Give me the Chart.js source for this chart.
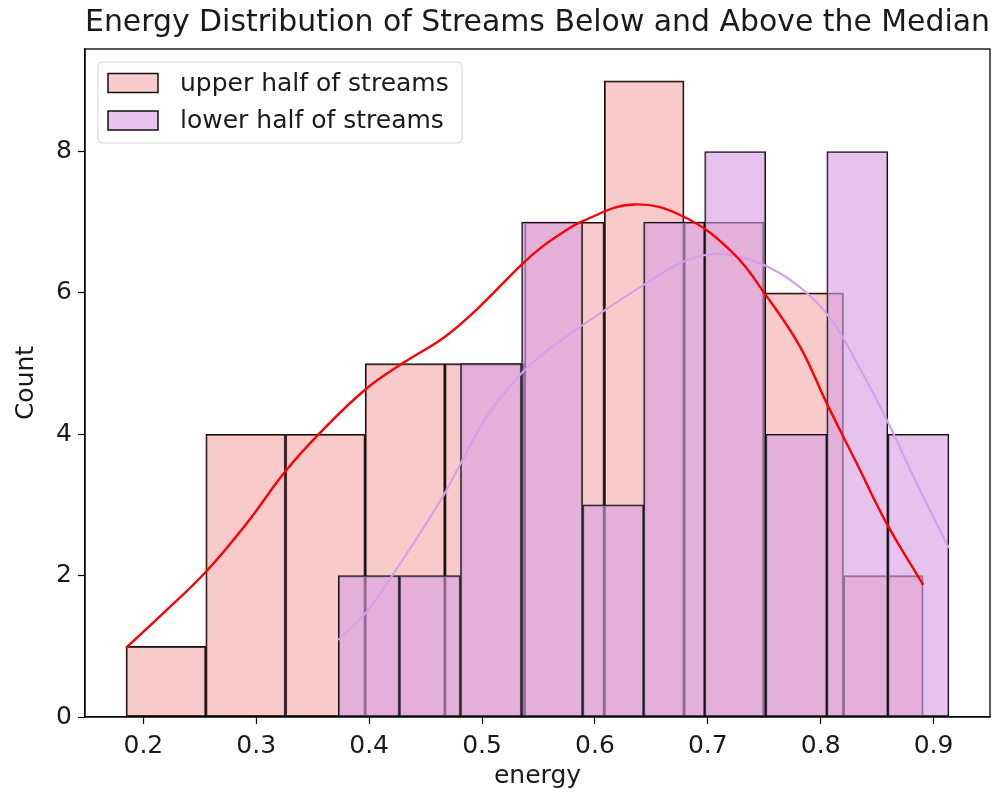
<!DOCTYPE html>
<html>
<head>
<meta charset="utf-8">
<script src="https://cdn.jsdelivr.net/npm/chart.js@4.4.0/dist/chart.umd.min.js"></script>
<style>
  html, body { margin: 0; padding: 0; background: #fff; }
  #wrap { width: 998px; height: 796px; }
</style>
</head>
<body>
<div id="wrap"><canvas id="histChart" width="998" height="796"></canvas></div>
<script>
// --- data ---
const upperLabel = 'upper half of streams';
const lowerLabel = 'lower half of streams';

// bin edges (energy) and counts per bin
const upperEdges = [0.1847, 0.2553, 0.3259, 0.3965, 0.4671, 0.5377, 0.6083, 0.6790, 0.7496, 0.8202, 0.8908];
const upperCounts = [1, 4, 4, 5, 5, 7, 9, 7, 6, 2];
const lowerEdges = [0.3727, 0.4268, 0.4809, 0.5350, 0.5891, 0.6432, 0.6972, 0.7513, 0.8054, 0.8595, 0.9136];
const lowerCounts = [2, 2, 5, 7, 3, 7, 8, 4, 8, 4];

// kde curves (energy, count scale)
const upperKdeX = [0.1847, 0.2177, 0.2546, 0.2916, 0.3255, 0.3565, 0.3964, 0.4303, 0.4672, 0.4982, 0.5337, 0.5514, 0.5691, 0.5897, 0.6340, 0.6783, 0.7226, 0.7522, 0.7817, 0.8053, 0.8319, 0.8584, 0.8908];
const upperKdeY = [0.98, 1.47, 2.04, 2.74, 3.47, 4.02, 4.63, 5.01, 5.38, 5.81, 6.38, 6.63, 6.83, 7.02, 7.25, 7.08, 6.56, 5.95, 5.24, 4.44, 3.59, 2.74, 1.87];
const lowerKdeX = [0.3727, 0.3979, 0.4200, 0.4451, 0.4672, 0.4805, 0.5042, 0.5337, 0.5514, 0.5691, 0.5897, 0.6429, 0.6783, 0.7049, 0.7285, 0.7580, 0.7876, 0.8112, 0.8348, 0.8584, 0.8850, 0.9136];
const lowerKdeY = [1.09, 1.49, 1.99, 2.60, 3.17, 3.57, 4.25, 4.84, 5.10, 5.32, 5.55, 6.11, 6.44, 6.55, 6.51, 6.33, 6.00, 5.58, 4.93, 4.21, 3.31, 2.39];

// axis ticks and limits
const xTicks = [0.2, 0.3, 0.4, 0.5, 0.6, 0.7, 0.8, 0.9];
const yTicks = [0, 2, 4, 6, 8];
const xMin = 0.1483, xMax = 0.95;
const yMin = 0, yMax = 9.45;

const FONT = '"DejaVu Sans", "Liberation Sans", sans-serif';
const TEXT = '#1a1a1a';

function toBars(edges, counts) {
    return counts.map((c, i) => ({ x: (edges[i] + edges[i + 1]) / 2, y: c }));
}
function toPoints(xs, ys) {
    return xs.map((x, i) => ({ x: x, y: ys[i] }));
}

// legend box in the upper left of the axes, like matplotlib
const boxLegend = {
    id: 'boxLegend',
    afterDraw(chart) {
        const ctx = chart.ctx;
        const a = chart.chartArea;
        const bars = chart.data.datasets.filter(d => d.type === 'bar').reverse();
        const bx = a.left + 13, by = a.top + 13, bw = 364, bh = 81;
        ctx.save();
        ctx.beginPath();
        ctx.roundRect(bx, by, bw, bh, 4);
        ctx.fillStyle = 'rgba(255,255,255,0.8)';
        ctx.fill();
        ctx.strokeStyle = '#d6d6d6';
        ctx.lineWidth = 1;
        ctx.stroke();
        ctx.font = '25px ' + FONT;
        ctx.textBaseline = 'middle';
        bars.forEach((d, i) => {
            const cy = by + 21 + i * 37.5;
            ctx.fillStyle = d.legendColor;
            ctx.fillRect(bx + 10, cy - 9.5, 50, 19);
            ctx.strokeStyle = '#111';
            ctx.lineWidth = 1.5;
            ctx.strokeRect(bx + 10, cy - 9.5, 50, 19);
            ctx.fillStyle = TEXT;
            ctx.fillText(d.label, bx + 82, cy + 1);
        });
        ctx.restore();
    }
};

// axes frame on all four sides
const frame = {
    id: 'frame',
    afterDatasetsDraw(chart) {
        const a = chart.chartArea;
        const ctx = chart.ctx;
        ctx.save();
        ctx.strokeStyle = '#000';
        ctx.lineWidth = 1.3;
        ctx.strokeRect(a.left, a.top, a.right - a.left, a.bottom - a.top);
        ctx.restore();
    }
};

document.addEventListener('DOMContentLoaded', function() {
    const ctx = document.getElementById('histChart').getContext('2d');
    new Chart(ctx, {
        type: 'bar',
        data: {
            datasets: [
                {
                    type: 'line',
                    label: 'kde upper',
                    data: toPoints(upperKdeX, upperKdeY),
                    xAxisID: 'x',
                    borderColor: '#ff0000',
                    borderWidth: 2.4,
                    pointRadius: 0,
                    tension: 0.4,
                    fill: false
                },
                {
                    type: 'line',
                    label: 'kde lower',
                    data: toPoints(lowerKdeX, lowerKdeY),
                    xAxisID: 'x',
                    borderColor: '#d6a0e8',
                    borderWidth: 2.2,
                    pointRadius: 0,
                    tension: 0.4,
                    fill: false
                },
                {
                    type: 'bar',
                    label: lowerLabel,
                    data: toBars(lowerEdges, lowerCounts),
                    xAxisID: 'x2',
                    grouped: false,
                    backgroundColor: 'rgba(214,158,224,0.62)',
                    legendColor: 'rgb(230,195,236)',
                    borderColor: '#111',
                    borderWidth: 1.25,
                    borderSkipped: false,
                    barPercentage: 1,
                    categoryPercentage: 1
                },
                {
                    type: 'bar',
                    label: upperLabel,
                    data: toBars(upperEdges, upperCounts),
                    xAxisID: 'x',
                    grouped: false,
                    backgroundColor: 'rgba(240,128,128,0.42)',
                    legendColor: 'rgb(249,202,202)',
                    borderColor: '#111',
                    borderWidth: 1.25,
                    borderSkipped: false,
                    barPercentage: 1,
                    categoryPercentage: 1
                }
            ]
        },
        options: {
            responsive: false,
            animation: false,
            layout: { padding: { right: 8 } },
            plugins: {
                legend: { display: false },
                tooltip: { enabled: false },
                title: {
                    display: true,
                    text: 'Energy Distribution of Streams Below and Above the Median',
                    fullSize: false,
                    color: TEXT,
                    font: { family: FONT, size: 30, weight: 'normal' },
                    padding: { top: 5, bottom: 8 }
                }
            },
            scales: {
                x: {
                    type: 'linear',
                    min: xMin,
                    max: xMax,
                    offset: false,
                    afterBuildTicks: s => { s.ticks = xTicks.map(v => ({ value: v })); },
                    afterFit: s => { s.height = 79; },
                    border: { display: true, color: '#000', width: 1.3 },
                    grid: { offset: false, drawOnChartArea: false, drawTicks: true, tickLength: 7, tickColor: '#000', tickWidth: 1.2 },
                    ticks: { color: TEXT, font: { family: FONT, size: 25 }, padding: 7, maxRotation: 0, callback: v => v.toFixed(1) },
                    title: { display: true, text: 'energy', color: TEXT, font: { family: FONT, size: 25 }, padding: { top: 0, bottom: 5 } }
                },
                x2: {
                    type: 'linear',
                    display: false,
                    min: xMin,
                    max: xMax,
                    offset: false,
                    afterBuildTicks: s => { s.ticks = xTicks.map(v => ({ value: v })); },
                    grid: { offset: false }
                },
                y: {
                    type: 'linear',
                    min: yMin,
                    max: yMax,
                    afterBuildTicks: s => { s.ticks = yTicks.map(v => ({ value: v })); },
                    afterFit: s => { s.width = 85; },
                    border: { display: true, color: '#000', width: 1.3 },
                    grid: { drawOnChartArea: false, drawTicks: true, tickLength: 7, tickColor: '#000', tickWidth: 1.2 },
                    ticks: { color: TEXT, font: { family: FONT, size: 25 }, padding: 6 },
                    title: { display: true, text: 'Count', color: TEXT, font: { family: FONT, size: 25 }, padding: { top: 11, bottom: 0 } }
                }
            }
        },
        plugins: [frame, boxLegend]
    });
});
</script>
</body>
</html>
